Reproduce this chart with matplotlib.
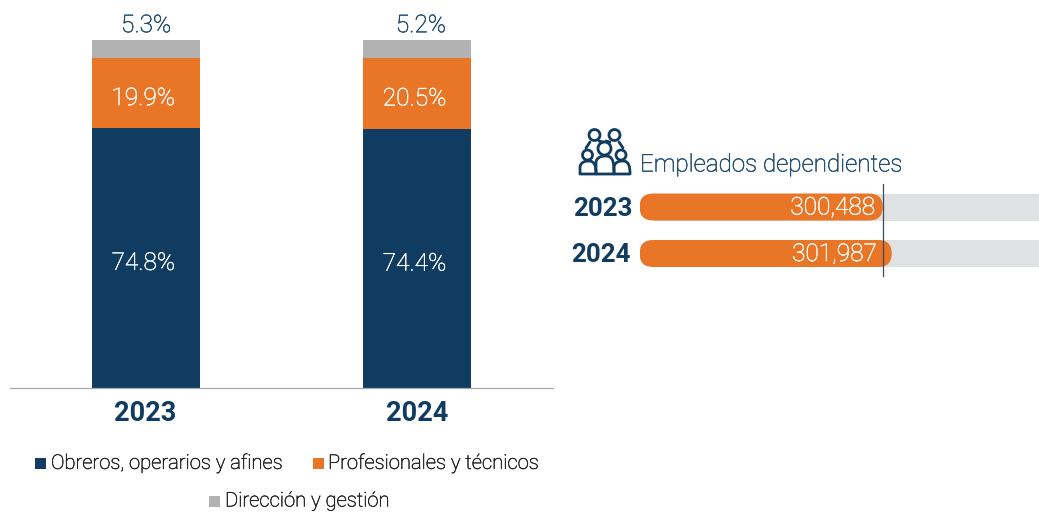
import matplotlib
matplotlib.use("Agg")
import matplotlib.pyplot as plt
import matplotlib.patheffects as pe
from matplotlib.patches import FancyBboxPatch, Rectangle, Circle, PathPatch
from matplotlib.path import Path

plt.rcParams['font.family'] = ['Roboto', 'DejaVu Sans']

W, H = 1039, 512
NAVY = '#0F3C60'
ORANGE = '#E97527'
GRAY = '#B2B2B2'
TRACK = '#E0E1E3'
TXT = '#1F4B6E'

years = ['2023', '2024']
obreros = [74.8, 74.4]
profesionales = [19.9, 20.5]
direccion = [5.3, 5.2]
series_names = ['Obreros, operarios y afines', 'Profesionales y técnicos', 'Dirección y gestión']
empleados = [300488, 301987]
empleados_title = 'Empleados dependientes'

fig = plt.figure(figsize=(W / 100, H / 100), dpi=100, facecolor='white')


def px_axes(x0, y0, x1, y1, **kw):
    return fig.add_axes([x0 / W, 1 - y1 / H, (x1 - x0) / W, (y1 - y0) / H], **kw)


def thick(color, w=0.35):
    return [pe.withStroke(linewidth=w, foreground=color)]


# ---------- stacked columns ----------
ax = px_axes(10, 40, 552.5, 388)
ax.set_xlim(-0.5, 1.5)
ax.set_ylim(0, 100)
xs = [0, 1]
bottom = [0, 0]
top_dx = [0.3, 2.9]
for vals, col, tc in [(obreros, NAVY, 'white'), (profesionales, ORANGE, 'white'), (direccion, GRAY, TXT)]:
    ax.bar(xs, vals, width=0.398, bottom=bottom, color=col, linewidth=0)
    for i, (x, v, b) in enumerate(zip(xs, vals, bottom)):
        if col == GRAY:
            ax.annotate(f'{v:.1f}%', (x, 100), xytext=(top_dx[i], 2), textcoords='offset points', ha='center',
                        va='bottom', color=tc, fontsize=17.6, fontweight='light', path_effects=thick(tc))
        else:
            ax.annotate(f'{v:.1f}%', (x, b + v / 2), xytext=(-1.7, -4), textcoords='offset points', ha='center',
                        va='center', color=tc, fontsize=17.6, fontweight='light', path_effects=thick(tc))
    bottom = [b + v for b, v in zip(bottom, vals)]
for s in ['top', 'left', 'right']:
    ax.spines[s].set_visible(False)
ax.spines['bottom'].set_color('#A8A8A8')
ax.spines['bottom'].set_linewidth(0.9)
ax.set_yticks([])
ax.set_xticks(xs, years)
ax.tick_params(axis='x', length=0, pad=8.3)
for t in ax.get_xticklabels():
    t.set_fontsize(19.5)
    t.set_fontweight('bold')
    t.set_color(NAVY)
ax.patch.set_alpha(0)

# ---------- employee bars ----------
bx = px_axes(639.5, 184, 1039, 276)
XMIN, XMAX = 260000, 326500
bx.set_xlim(XMIN, XMAX)
bx.set_ylim(92, 0)  # pixels below top of this axes
bx.axis('off')
ypos = [23, 69.5]
barh = 27
unit = (XMAX - XMIN) / 399
r = 13.5 * unit
val_right = [875, 877]
label_right = [633, 631.5]
for y, v, yr, vr, lr in zip(ypos, empleados, years, val_right, label_right):
    bx.barh(y, XMAX - XMIN - 14 * unit, left=XMIN + 14 * unit, height=barh, color=TRACK, linewidth=0, zorder=1)
    bx.add_patch(FancyBboxPatch((XMIN, y - barh / 2), v - XMIN, barh,
                                boxstyle=f'round,pad=0,rounding_size={r}',
                                mutation_aspect=13.5 / r, facecolor=ORANGE, edgecolor='none', zorder=2))
    bx.text(XMIN + (vr - 640) * unit, y + 1, f'{v:,}', ha='right', va='center',
            color='white', fontsize=17.6, fontweight='light', zorder=3, path_effects=thick('white'))
    bx.text(XMIN + (lr - 640) * unit, y + 1.5, yr, ha='right', va='center', color=NAVY, fontsize=18.6,
            fontweight='bold', clip_on=False)
bx.plot([empleados[0], empleados[0]], [0, 92], color='#3F4A54', lw=0.9, zorder=4, clip_on=False)

# ---------- overlay in pixels: title, icon, legend ----------
ov = px_axes(0, 0, W, H)
ov.set_xlim(0, W)
ov.set_ylim(H, 0)
ov.axis('off')
ov.patch.set_alpha(0)

ov.text(640, 165, empleados_title, ha='left', va='center', color=TXT, fontsize=17.4, fontweight='light',
        path_effects=thick(TXT))

# icon
icon = dict(fill=False, edgecolor=NAVY, linewidth=2.0, zorder=5)
for cx, cy, rr in [(594.5, 135, 5.5), (614.5, 135, 5.5), (604.5, 148.5, 6.5), (587.5, 155, 5), (621, 155, 5)]:
    ov.add_patch(Circle((cx, cy), rr, **icon))


def body(x0, x1, top, bot=174):
    c = (x1 - x0) * 0.28
    verts = [(x0, bot), (x0, top + 6), (x0 + c * .2, top), (x0 + c * 1.6, top),
             (x1 - c * 1.6, top), (x1 - c * .2, top), (x1, top + 6), (x1, bot), (x0, bot)]
    codes = [Path.MOVETO, Path.LINETO, Path.CURVE4, Path.CURVE4, Path.LINETO, Path.CURVE4, Path.CURVE4, Path.LINETO, Path.CLOSEPOLY]
    return Path(verts, codes)


for x0, x1, top in [(580, 596, 161), (596, 614, 156), (614, 630, 161)]:
    ov.add_patch(PathPatch(body(x0, x1, top), joinstyle='round', **icon))
for x0, x1, y0, y1 in [(586, 590, 148, 142), (603, 599, 142, 141), (606, 610, 141, 142), (623, 619, 148, 142)]:
    ov.plot([x0, x1], [y0, y1], color=NAVY, lw=2, zorder=5, solid_capstyle='round')

# legend
for (sx, sy, col), (tx, name) in zip([(35, 458, NAVY), (313, 458, ORANGE), (209, 496, GRAY)],
                                    zip([51, 328, 225], series_names)):
    ov.add_patch(Rectangle((sx, sy), 11, 11, facecolor=col, edgecolor='none'))
    ov.text(tx, sy + 5, name, ha='left', va='center', color='#222222', fontsize=14.55, fontweight='light',
            path_effects=thick('#222222'))

fig.savefig('out.png', dpi=100)
